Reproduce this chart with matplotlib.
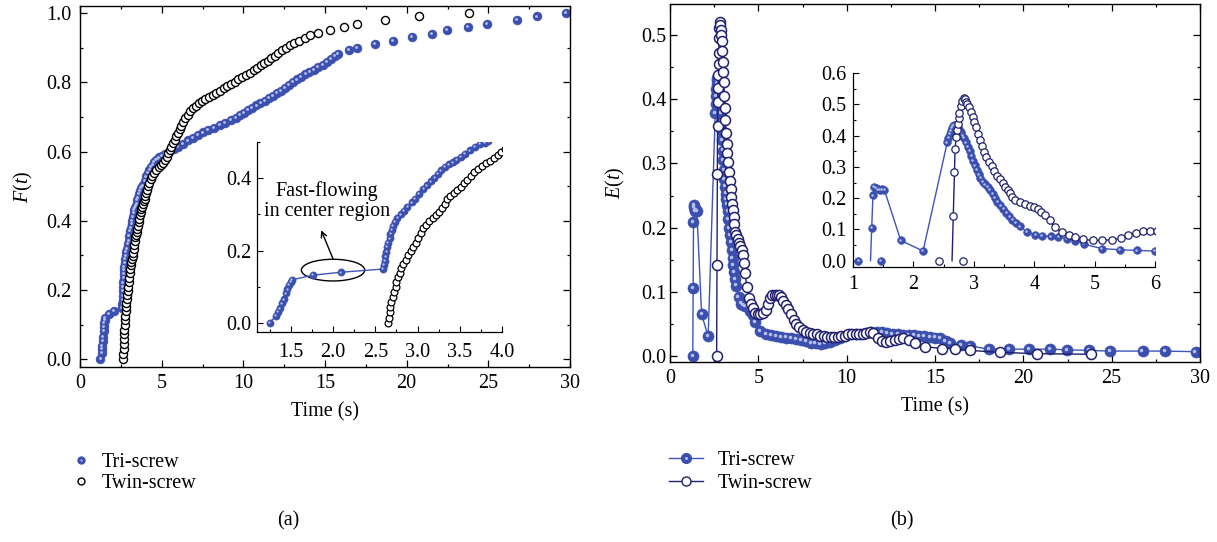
import matplotlib
matplotlib.use("Agg")
import matplotlib.pyplot as plt
from matplotlib.lines import Line2D
from matplotlib.patches import Ellipse
from matplotlib.legend_handler import HandlerTuple
from matplotlib.ticker import MultipleLocator
from matplotlib.transforms import offset_copy

plt.rcParams["font.family"] = ["Liberation Serif", "DejaVu Serif"]
plt.rcParams["mathtext.fontset"] = "custom"
plt.rcParams["mathtext.rm"] = "Liberation Serif"
plt.rcParams["mathtext.it"] = "Liberation Serif:italic"

FS = 14.5
BLUE = "#3b50ae"
HILITE = "#b4bfee"
NAVY = "#20206e"
TRI_LINE = "#3d55b8"

# ---- (a) cumulative distribution F(t), pairs of (time s, F) ----
tri_F = [
    (1.25, 0.000), (1.32, 0.019), (1.35, 0.031), (1.37, 0.040), (1.39, 0.054),
    (1.42, 0.065), (1.44, 0.082), (1.46, 0.093), (1.48, 0.105), (1.50, 0.114),
    (1.51, 0.119), (1.76, 0.132), (2.09, 0.140), (2.59, 0.149), (2.60, 0.160),
    (2.61, 0.172), (2.62, 0.184), (2.63, 0.197), (2.64, 0.210), (2.65, 0.222),
    (2.67, 0.234), (2.68, 0.246), (2.70, 0.258), (2.71, 0.268), (2.73, 0.279),
    (2.76, 0.290), (2.80, 0.300), (2.84, 0.310), (2.88, 0.320), (2.93, 0.333),
    (2.97, 0.343), (3.02, 0.357), (3.07, 0.370), (3.11, 0.380), (3.16, 0.391),
    (3.20, 0.400), (3.24, 0.411), (3.28, 0.422), (3.32, 0.431), (3.37, 0.438),
    (3.42, 0.444), (3.46, 0.450), (3.51, 0.459), (3.56, 0.467), (3.62, 0.477),
    (3.68, 0.487), (3.74, 0.494), (3.80, 0.498), (3.84, 0.502), (3.95, 0.515),
    (4.05, 0.528), (4.15, 0.538), (4.25, 0.547), (4.35, 0.555), (4.45, 0.562),
    (4.55, 0.569), (4.65, 0.575), (4.75, 0.579), (4.85, 0.583), (5.00, 0.588),
    (5.20, 0.594), (5.45, 0.600), (5.73, 0.606), (6.00, 0.613), (6.30, 0.622),
    (6.60, 0.632), (6.90, 0.640), (7.20, 0.648), (7.50, 0.655), (7.85, 0.662),
    (8.20, 0.669), (8.55, 0.676), (8.90, 0.683), (9.25, 0.690), (9.55, 0.698),
    (9.80, 0.705), (10.05, 0.712), (10.30, 0.719), (10.55, 0.726), (10.80, 0.733),
    (11.05, 0.740), (11.30, 0.747), (11.55, 0.754), (11.80, 0.761), (12.05, 0.768),
    (12.30, 0.776), (12.55, 0.784), (12.80, 0.792), (13.05, 0.800), (13.30, 0.808),
    (13.55, 0.816), (13.80, 0.823), (14.05, 0.830), (14.30, 0.836), (14.55, 0.843),
    (14.85, 0.851), (15.10, 0.859), (15.35, 0.867), (15.60, 0.875), (15.80, 0.882),
    (16.45, 0.893), (16.97, 0.899), (18.06, 0.910), (19.17, 0.920), (20.34, 0.930),
    (21.53, 0.940), (22.45, 0.950), (23.74, 0.960), (24.89, 0.969), (26.75, 0.979),
    (28.00, 0.990), (29.75, 1.000),
]
twin_F = [
    (2.645, 0.000), (2.66, 0.015), (2.67, 0.030), (2.68, 0.045), (2.69, 0.058),
    (2.71, 0.072), (2.72, 0.086), (2.74, 0.100), (2.75, 0.113), (2.77, 0.126),
    (2.79, 0.139), (2.81, 0.151), (2.83, 0.162), (2.86, 0.175), (2.89, 0.187),
    (2.92, 0.198), (2.95, 0.209), (2.98, 0.222), (3.01, 0.236), (3.04, 0.249),
    (3.07, 0.261), (3.10, 0.272), (3.14, 0.281), (3.18, 0.289), (3.22, 0.297),
    (3.26, 0.307), (3.29, 0.318), (3.32, 0.330), (3.35, 0.342), (3.39, 0.352),
    (3.43, 0.360), (3.47, 0.368), (3.51, 0.377), (3.55, 0.386), (3.59, 0.396),
    (3.63, 0.406), (3.67, 0.416), (3.71, 0.426), (3.76, 0.434), (3.81, 0.441),
    (3.86, 0.448), (3.91, 0.456), (3.95, 0.464), (3.99, 0.472), (4.03, 0.480),
    (4.08, 0.490), (4.14, 0.500), (4.22, 0.510), (4.32, 0.520), (4.43, 0.529),
    (4.55, 0.538), (4.68, 0.546), (4.82, 0.554), (4.96, 0.561), (5.08, 0.567),
    (5.20, 0.575), (5.30, 0.585), (5.40, 0.595), (5.50, 0.604), (5.60, 0.614),
    (5.70, 0.624), (5.80, 0.634), (5.90, 0.644), (6.00, 0.654), (6.10, 0.664),
    (6.20, 0.674), (6.32, 0.685), (6.45, 0.696), (6.60, 0.706), (6.75, 0.716),
    (6.90, 0.725), (7.08, 0.732), (7.27, 0.739), (7.47, 0.745), (7.68, 0.751),
    (7.90, 0.758), (8.12, 0.764), (8.35, 0.770), (8.58, 0.776), (8.80, 0.782),
    (9.02, 0.788), (9.25, 0.795), (9.48, 0.802), (9.70, 0.809), (9.92, 0.815),
    (10.15, 0.821), (10.40, 0.828), (10.63, 0.836), (10.85, 0.842), (11.07, 0.849),
    (11.28, 0.855), (11.50, 0.862), (11.72, 0.869), (11.94, 0.877), (12.15, 0.885),
    (12.37, 0.892), (12.60, 0.899), (12.85, 0.906), (13.10, 0.913), (13.40, 0.920),
    (13.75, 0.928), (14.10, 0.935), (14.55, 0.942), (15.30, 0.951), (16.15, 0.960),
    (16.97, 0.969), (18.70, 0.979), (20.75, 0.990), (23.83, 1.000),
]

# ---- (b) residence time distribution E(t), pairs of (time s, E) ----
tri_E = [
    (1.29, 0.000), (1.31, 0.106), (1.33, 0.209), (1.35, 0.235), (1.38, 0.232),
    (1.41, 0.228), (1.44, 0.226), (1.48, 0.228), (1.52, 0.226), (1.79, 0.065),
    (2.16, 0.031), (2.56, 0.378), (2.58, 0.393), (2.60, 0.405), (2.62, 0.415),
    (2.64, 0.424), (2.66, 0.430), (2.68, 0.433), (2.70, 0.432), (2.72, 0.428),
    (2.75, 0.420), (2.78, 0.410), (2.81, 0.400), (2.84, 0.392), (2.87, 0.378),
    (2.90, 0.364), (2.93, 0.350), (2.96, 0.336), (2.99, 0.320), (3.02, 0.305),
    (3.05, 0.290), (3.08, 0.276), (3.11, 0.264), (3.15, 0.253), (3.19, 0.244),
    (3.23, 0.236), (3.27, 0.226), (3.31, 0.214), (3.35, 0.200), (3.39, 0.188),
    (3.44, 0.177), (3.49, 0.165), (3.54, 0.153), (3.59, 0.142), (3.64, 0.131),
    (3.70, 0.120), (3.76, 0.110), (3.88, 0.092), (4.02, 0.082), (4.13, 0.080),
    (4.27, 0.078), (4.40, 0.076), (4.54, 0.071), (4.68, 0.064), (4.82, 0.053),
    (5.12, 0.039), (5.42, 0.035), (5.70, 0.033), (6.00, 0.031), (6.28, 0.030),
    (6.56, 0.029), (6.84, 0.028), (7.12, 0.027), (7.40, 0.025), (7.68, 0.023),
    (7.96, 0.021), (8.24, 0.020), (8.52, 0.019), (8.80, 0.020), (9.08, 0.022),
    (9.36, 0.025), (9.64, 0.029), (9.92, 0.032), (10.20, 0.034), (10.50, 0.035),
    (10.80, 0.035), (11.10, 0.036), (11.40, 0.037), (11.70, 0.038), (12.00, 0.038),
    (12.30, 0.036), (12.60, 0.035), (12.90, 0.034), (13.20, 0.033), (13.50, 0.033),
    (13.80, 0.033), (14.10, 0.032), (14.40, 0.031), (14.70, 0.030), (15.00, 0.029),
    (15.30, 0.028), (15.60, 0.024), (15.85, 0.021), (16.45, 0.018), (16.97, 0.016),
    (18.06, 0.011), (19.17, 0.011), (20.34, 0.011), (21.53, 0.011), (22.45, 0.010),
    (23.74, 0.009), (24.89, 0.008), (26.75, 0.008), (28.00, 0.008), (29.75, 0.007),
]
twin_E = [
    (2.64, 0.000), (2.66, 0.142), (2.68, 0.283), (2.69, 0.358), (2.71, 0.395),
    (2.72, 0.418), (2.74, 0.437), (2.75, 0.455), (2.76, 0.472), (2.78, 0.495),
    (2.80, 0.510), (2.83, 0.520), (2.85, 0.516), (2.87, 0.508), (2.89, 0.500),
    (2.92, 0.490), (2.95, 0.475), (2.98, 0.458), (3.01, 0.442), (3.04, 0.426),
    (3.07, 0.405), (3.10, 0.386), (3.13, 0.367), (3.17, 0.348), (3.21, 0.330),
    (3.25, 0.316), (3.30, 0.302), (3.34, 0.287), (3.38, 0.272), (3.43, 0.260),
    (3.48, 0.248), (3.52, 0.237), (3.56, 0.227), (3.60, 0.216), (3.64, 0.205),
    (3.69, 0.194), (3.76, 0.189), (3.85, 0.182), (3.93, 0.176), (3.99, 0.172),
    (4.06, 0.166), (4.12, 0.157), (4.18, 0.145), (4.26, 0.129), (4.34, 0.108),
    (4.46, 0.091), (4.57, 0.081), (4.68, 0.075), (4.81, 0.068), (4.97, 0.065),
    (5.12, 0.065), (5.28, 0.067), (5.44, 0.072), (5.56, 0.082), (5.68, 0.090),
    (5.80, 0.095), (5.92, 0.096), (6.03, 0.096), (6.15, 0.095), (6.28, 0.092),
    (6.42, 0.086), (6.56, 0.080), (6.70, 0.073), (6.85, 0.066), (7.00, 0.057),
    (7.15, 0.050), (7.31, 0.045), (7.50, 0.041), (7.70, 0.038), (7.90, 0.036),
    (8.10, 0.035), (8.30, 0.034), (8.50, 0.032), (8.70, 0.031), (8.90, 0.030),
    (9.10, 0.030), (9.30, 0.030), (9.50, 0.030), (9.70, 0.031), (9.90, 0.032),
    (10.10, 0.034), (10.30, 0.035), (10.50, 0.035), (10.70, 0.035), (10.90, 0.035),
    (11.10, 0.036), (11.30, 0.037), (11.50, 0.036), (11.76, 0.028), (12.00, 0.024),
    (12.24, 0.022), (12.48, 0.023), (12.71, 0.025), (12.95, 0.027), (13.19, 0.028),
    (13.50, 0.025), (13.85, 0.021), (14.42, 0.015), (15.37, 0.012), (16.13, 0.012),
    (16.97, 0.009), (18.70, 0.006), (20.75, 0.004), (23.83, 0.003),
]
# stray zero markers that the inset of (b) shows beside the first points
inset_zero_tri = [1.09, 1.46]
inset_zero_twin = [2.43, 2.82]

series_labels = ["Tri-screw", "Twin-screw"]


def unzip(pairs):
    return [p[0] for p in pairs], [p[1] for p in pairs]


def balls(ax, x, y, ms):
    """Filled blue markers with a small highlight, like shaded spheres."""
    ax.plot(x, y, "o", ls="none", ms=ms, mfc=BLUE, mec=BLUE, mew=0.4)
    tr = offset_copy(ax.transData, fig=ax.figure, x=-ms * 0.1, y=ms * 0.1,
                     units="points")
    ax.plot(x, y, "o", ls="none", ms=ms * 0.32, mfc=HILITE, mew=0,
            transform=tr)


def style_main(ax, ypad):
    for s in ax.spines.values():
        s.set_linewidth(1.0)
    ax.tick_params(which="both", direction="in", top=True, right=True,
                   labelsize=FS, width=0.9)
    ax.tick_params(which="major", length=5)
    ax.tick_params(which="minor", length=2.5)
    ax.tick_params(axis="y", pad=ypad)
    ax.tick_params(axis="x", pad=5)


def style_inset(ax, xpad, ypad):
    ax.spines["top"].set_visible(False)
    ax.spines["right"].set_visible(False)
    for s in ["left", "bottom"]:
        ax.spines[s].set_linewidth(0.9)
    ax.patch.set_alpha(0)
    ax.tick_params(which="both", direction="in", labelsize=FS, width=0.8)
    ax.tick_params(which="major", length=4)
    ax.tick_params(which="minor", length=2.5)
    ax.tick_params(axis="x", pad=xpad)
    ax.tick_params(axis="y", pad=ypad)


W, H = 1217, 542
fig = plt.figure(figsize=(W / 100, H / 100), dpi=100)


def px_axes(left, top, right, bottom):
    return fig.add_axes([left / W, 1 - bottom / H, (right - left) / W,
                         (bottom - top) / H])


tFa, Fa = unzip(tri_F)
tFb, Fb = unzip(twin_F)
tEa, Ea = unzip(tri_E)
tEb, Eb = unzip(twin_E)

# ---------------- panel (a) ----------------
ax_a = px_axes(80, 6, 570, 367)
balls(ax_a, tFa, Fa, 6.4)
ax_a.plot(tFb, Fb, "o", ls="none", ms=5.8, mfc="white", mec="black", mew=1.0)
ax_a.set_xlim(0, 30)
ax_a.set_ylim(-0.022, 1.02)
ax_a.xaxis.set_major_locator(MultipleLocator(5))
ax_a.xaxis.set_minor_locator(MultipleLocator(2.5))
ax_a.yaxis.set_major_locator(MultipleLocator(0.2))
ax_a.yaxis.set_minor_locator(MultipleLocator(0.1))
ax_a.yaxis.set_major_formatter(lambda v, p: f"{v:.1f}")
style_main(ax_a, 6)
ax_a.set_xlabel("Time (s)", fontsize=FS, labelpad=7)
ax_a.set_ylabel("$F(t)$", fontsize=FS, labelpad=8)

ins_a = px_axes(257, 142, 502, 332)
ins_a.plot(tFa, Fa, "-", color=TRI_LINE, lw=1.0)
balls(ins_a, tFa, Fa, 5.2)
ins_a.plot(tFb, Fb, "o", ls="none", ms=4.9, mfc="white", mec="black", mew=0.9)
ins_a.set_xlim(1.1, 4.0)
ins_a.set_ylim(-0.025, 0.5)
ins_a.xaxis.set_major_locator(MultipleLocator(0.5))
ins_a.xaxis.set_minor_locator(MultipleLocator(0.25))
ins_a.yaxis.set_major_locator(MultipleLocator(0.2))
ins_a.yaxis.set_minor_locator(MultipleLocator(0.1))
ins_a.xaxis.set_major_formatter(lambda v, p: f"{v:.1f}" if v >= 1.5 else "")
ins_a.yaxis.set_major_formatter(lambda v, p: f"{v:.1f}")
style_inset(ins_a, 8, 4)
ins_a.add_patch(Ellipse((2.0, 0.146), 0.75, 0.060, fill=False,
                        edgecolor="black", lw=1.0))
ins_a.annotate("", xy=(1.86, 0.256), xytext=(2.0, 0.177),
               arrowprops=dict(arrowstyle="->", lw=1.0, color="black",
                               shrinkA=0, shrinkB=0))
ins_a.text(1.93, 0.336, "Fast-flowing\nin center region", ha="center",
           va="center", fontsize=FS, linespacing=1.05)

# ---------------- panel (b) ----------------
ax_b = px_axes(670, 4, 1200, 362)
ax_b.plot(tEa, Ea, "-", color=TRI_LINE, lw=1.0)
balls(ax_b, tEa, Ea, 8.0)
ax_b.plot(tEb, Eb, "-o", color=NAVY, lw=1.0, ms=7.2, mfc="white", mec=NAVY,
          mew=1.1)
ax_b.set_xlim(0, 30)
ax_b.set_ylim(-0.009, 0.548)
ax_b.xaxis.set_major_locator(MultipleLocator(5))
ax_b.xaxis.set_minor_locator(MultipleLocator(2.5))
ax_b.yaxis.set_major_locator(MultipleLocator(0.1))
ax_b.yaxis.set_minor_locator(MultipleLocator(0.05))
ax_b.yaxis.set_major_formatter(lambda v, p: f"{v:.1f}")
style_main(ax_b, 2.5)
ax_b.set_xlabel("Time (s)", fontsize=FS, labelpad=7)
ax_b.set_ylabel("$E(t)$", fontsize=FS, labelpad=10)

ins_b = px_axes(853, 73, 1155, 267)
ins_b.plot(tEa, Ea, "-", color=TRI_LINE, lw=1.0)
balls(ins_b, tEa[1:], Ea[1:], 5.6)
balls(ins_b, inset_zero_tri, [0.0] * len(inset_zero_tri), 5.6)
ins_b.plot(tEb, Eb, "-", color=NAVY, lw=1.0)
ins_b.plot(tEb[1:], Eb[1:], "o", ls="none", ms=5.3, mfc="white", mec=NAVY,
           mew=0.9)
ins_b.plot(inset_zero_twin, [0.0] * len(inset_zero_twin), "o", ls="none",
           ms=5.3, mfc="white", mec=NAVY, mew=0.9)
ins_b.set_xlim(1, 6)
ins_b.set_ylim(-0.02, 0.6)
ins_b.xaxis.set_major_locator(MultipleLocator(1))
ins_b.xaxis.set_minor_locator(MultipleLocator(0.5))
ins_b.yaxis.set_major_locator(MultipleLocator(0.1))
ins_b.yaxis.set_minor_locator(MultipleLocator(0.05))
ins_b.yaxis.set_major_formatter(lambda v, p: f"{v:.1f}")
style_inset(ins_b, 6, 5)

# ---------------- legends and panel tags ----------------
overlay = {tuple: HandlerTuple(ndivide=1, pad=0)}
leg_a = [
    (Line2D([], [], marker="o", ls="none", ms=5.0, mfc=BLUE, mec=BLUE),
     Line2D([], [], marker="o", ls="none", ms=1.6, mfc=HILITE, mew=0)),
    Line2D([], [], marker="o", ls="none", ms=5.0, mfc="white", mec="black",
           mew=1.0),
]
fig.legend(leg_a, series_labels, loc="upper left",
           bbox_to_anchor=(73 / W, 1 - 453 / H), frameon=False, fontsize=FS,
           borderpad=0, borderaxespad=0, handlelength=0.8, handletextpad=0.6,
           labelspacing=0.08, handler_map=overlay)

leg_b = [
    (Line2D([], [], color=TRI_LINE, lw=1.0, marker="o", ms=7.0, mfc=BLUE,
            mec=BLUE),
     Line2D([], [], ls="none", marker="o", ms=2.2, mfc=HILITE, mew=0)),
    Line2D([], [], color=NAVY, lw=1.0, marker="o", ms=6.5, mfc="white",
           mec=NAVY, mew=1.0),
]
fig.legend(leg_b, series_labels, loc="upper left",
           bbox_to_anchor=(669 / W, 1 - 451 / H), frameon=False, fontsize=FS,
           borderpad=0, borderaxespad=0, handlelength=1.7, handletextpad=0.7,
           labelspacing=0.2, handler_map=overlay)

fig.text(288 / W, 1 - 521 / H, "(a)", ha="center", va="center", fontsize=FS)
fig.text(902 / W, 1 - 521 / H, "(b)", ha="center", va="center", fontsize=FS)

fig.savefig("out.png", dpi=100)
